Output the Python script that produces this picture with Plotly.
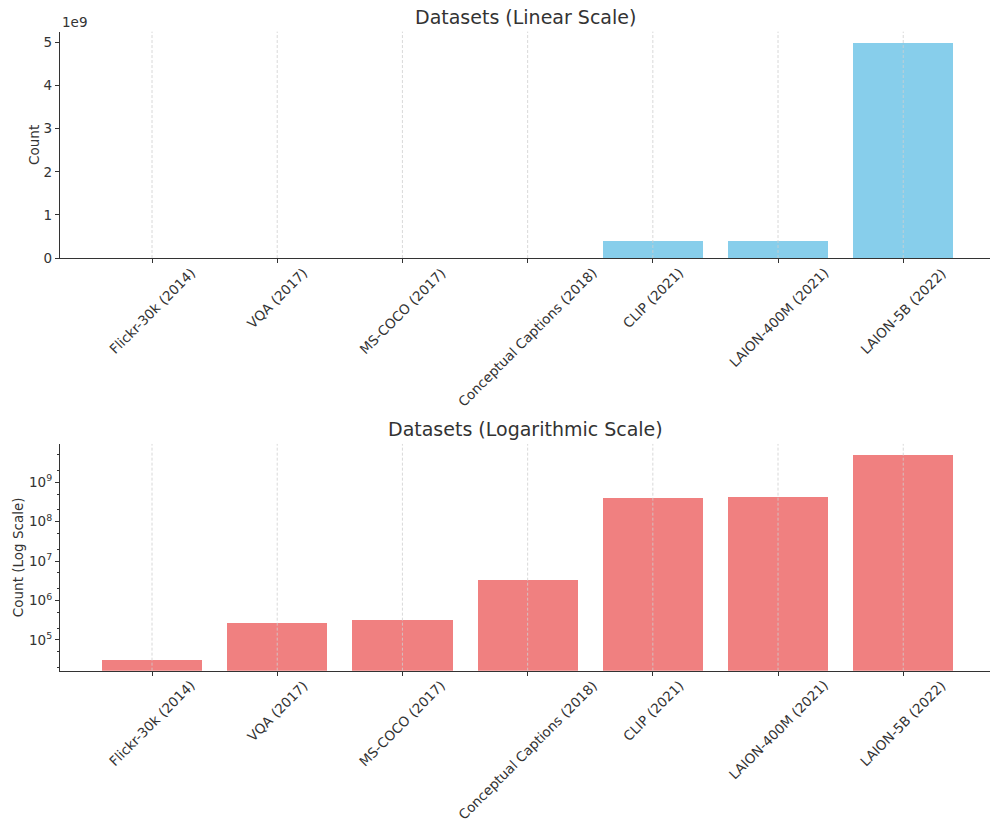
import math
import plotly.graph_objects as go

datasets = ["Flickr-30k (2014)", "VQA (2017)", "MS-COCO (2017)",
            "Conceptual Captions (2018)", "CLIP (2021)", "LAION-400M (2021)",
            "LAION-5B (2022)"]
counts = [31783, 265000, 330000, 3300000, 400000000, 413000000, 5000000000]

linear_ticks = [0, 1e9, 2e9, 3e9, 4e9, 5e9]
linear_tick_labels = ["0", "1", "2", "3", "4", "5"]
linear_offset_label = "1e9"
log_ticks = [1e5, 1e6, 1e7, 1e8, 1e9]
log_tick_labels = ["10<sup>%d</sup>" % round(math.log10(v)) for v in log_ticks]

TXT = "#333333"
FONT = "DejaVu Sans"

fig = go.Figure()
fig.add_trace(go.Bar(x=datasets, y=counts, marker=dict(color="#87CEEB", line=dict(width=0)),
                     width=0.8, xaxis="x", yaxis="y", showlegend=False))
fig.add_trace(go.Bar(x=datasets, y=counts, marker=dict(color="#F08080", line=dict(width=0)),
                     width=0.8, xaxis="x2", yaxis="y2", showlegend=False))

xcommon = dict(range=[-0.735, 6.693], showticklabels=False, ticks="outside", ticklen=4,
               tickwidth=1, tickcolor=TXT, showline=True, linecolor=TXT, linewidth=1.2,
               showgrid=False, zeroline=False, domain=[0, 1], fixedrange=True)

fig.update_layout(
    width=990, height=822,
    margin=dict(l=60, r=0, t=0, b=0),
    paper_bgcolor="white", plot_bgcolor="white",
    font=dict(family=FONT, size=13.5, color=TXT),
    bargap=0,
    xaxis=dict(**xcommon, anchor="y"),
    xaxis2=dict(**xcommon, anchor="y2"),
    yaxis=dict(domain=[0.6861, 0.9615], anchor="x", range=[0, 5.25e9],
               tickvals=linear_ticks, ticktext=linear_tick_labels,
               ticks="outside", ticklen=4, tickwidth=1, tickcolor=TXT,
               showline=True, linecolor=TXT, linewidth=1.2, showgrid=False,
               zeroline=False, tickfont=dict(size=13.5),
               title=dict(text="Count", font=dict(size=13.5), standoff=0),
               automargin=False),
    yaxis2=dict(domain=[0.1841, 0.4599], anchor="x2", type="log",
                range=[4.221, 9.971], tickvals=log_ticks, ticktext=log_tick_labels,
                ticks="outside", ticklen=4, tickwidth=1, tickcolor=TXT,
                showline=True, linecolor=TXT, linewidth=1.2, showgrid=False,
                zeroline=False, tickfont=dict(size=13.5),
                minor=dict(ticks="outside", ticklen=2, tickwidth=0.8, tickcolor=TXT, showgrid=False),
                title=dict(text="Count (Log Scale)", font=dict(size=13.5), standoff=2),
                automargin=False),
)

# vertical dashed grid lines drawn above bars (as in reference)
for xa, ya in (("x", "y domain"), ("x2", "y2 domain")):
    for cat in datasets:
        fig.add_shape(type="line", xref=xa, yref=ya, x0=cat, x1=cat, y0=0, y1=1,
                      line=dict(color="#cfcfcf", width=0.8, dash="3px,2px"), layer="above")

annotations = []
# category labels, rotated 45 and centered under ticks
for xa, ya in (("x", "y domain"), ("x2", "y2 domain")):
    for cat in datasets:
        annotations.append(dict(text=cat, x=cat, y=0, xref=xa, yref=ya, xanchor="center",
                                yanchor="top", textangle=-45, showarrow=False, yshift=-4,
                                font=dict(size=13.5, color=TXT)))
# titles
annotations.append(dict(text="Datasets (Linear Scale)", x=0.5, y=1, xref="x domain", yref="y domain",
                        xanchor="center", yanchor="bottom", yshift=2, showarrow=False,
                        font=dict(size=19, color=TXT)))
annotations.append(dict(text="Datasets (Logarithmic Scale)", x=0.5, y=1, xref="x2 domain", yref="y2 domain",
                        xanchor="center", yanchor="bottom", yshift=2, showarrow=False,
                        font=dict(size=19, color=TXT)))
annotations.append(dict(text=linear_offset_label, x=0, y=1, xref="x domain", yref="y domain",
                        xanchor="left", yanchor="bottom", yshift=0, showarrow=False,
                        font=dict(size=13.5, color=TXT)))
fig.update_layout(annotations=annotations)

fig.write_html("out.html")
